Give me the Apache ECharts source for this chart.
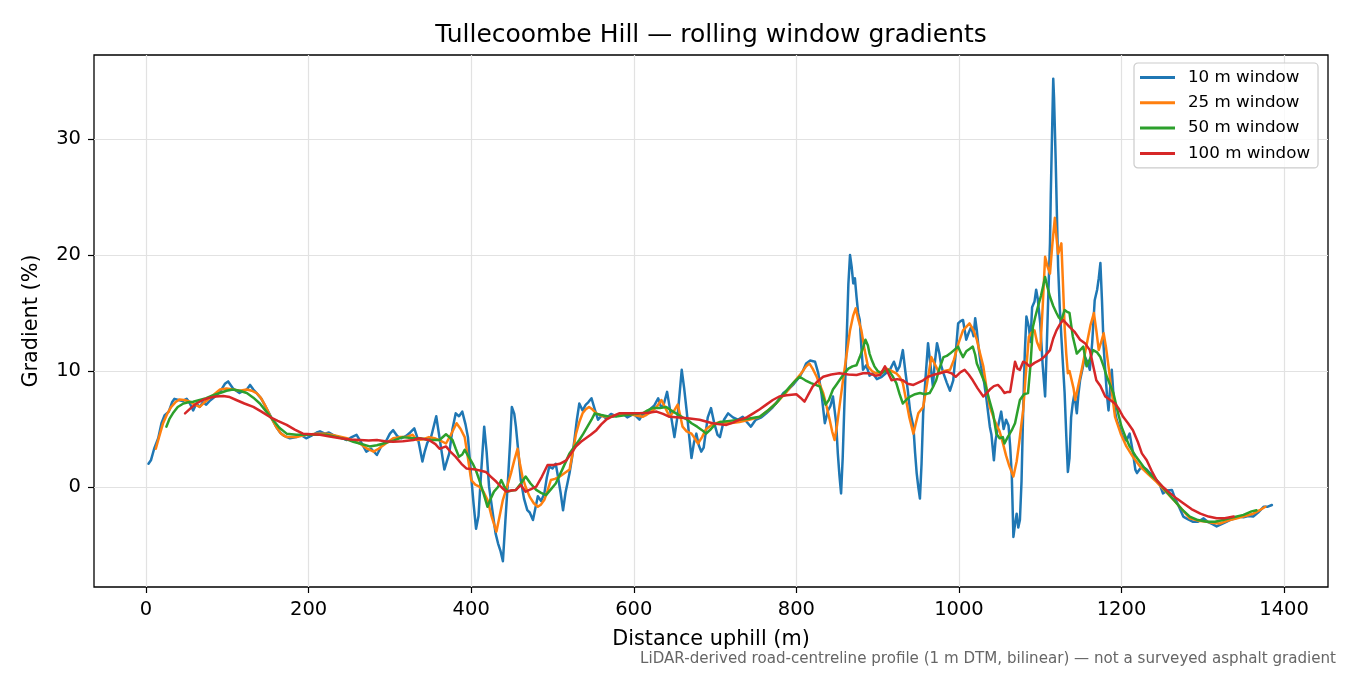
<!DOCTYPE html>
<html>
<head>
<meta charset="utf-8">
<title>Tullecoombe Hill gradients</title>
<script src="https://cdn.jsdelivr.net/npm/echarts@6/dist/echarts.min.js"></script>
<style>
  html, body { margin: 0; padding: 0; background: #fff; }
  #chart { width: 1350px; height: 675px; }
</style>
</head>
<body>
<div id="chart"></div>
<script>
// distances (m) and gradients (%), one pair of arrays per window
const d10 = [3, 6, 10, 15, 19, 23, 28, 32, 35, 40, 45, 50, 54, 58, 62, 66, 70, 74, 78, 83, 88, 92, 97, 101, 104, 107, 111, 115, 120, 124, 128, 132, 136, 142, 148, 154, 160, 165, 170, 177, 185, 190, 197, 203, 210, 214, 220, 225, 230, 236, 242, 247, 253, 259, 265, 271, 277, 284, 290, 296, 300, 304, 309, 314, 320, 325, 330, 335, 340, 343, 346, 351, 357, 362, 367, 373, 377, 381, 385, 389, 393, 396, 400, 403, 406, 409, 412, 416, 419, 422, 427, 430, 433, 436, 439, 442, 445, 448, 450, 453, 455, 458, 461, 465, 469, 472, 476, 479, 482, 486, 490, 493, 496, 500, 504, 507, 510, 513, 516, 521, 524, 527, 530, 533, 537, 541, 544, 548, 552, 556, 561, 566, 572, 578, 586, 592, 600, 607, 611, 615, 620, 625, 630, 633, 636, 641, 645, 650, 654, 659, 662, 665, 668, 671, 674, 677, 680, 683, 686, 691, 695, 699, 703, 706, 711, 716, 722, 728, 734, 739, 744, 750, 757, 763, 770, 777, 784, 790, 797, 804, 808, 812, 817, 823, 827, 831, 835, 839, 842, 845, 849, 851, 853, 855, 857, 859, 862, 864, 866, 868, 870, 872, 874, 876, 878, 880, 882, 886, 890, 894, 899, 905, 910, 915, 920, 924, 927, 931, 934, 937, 940, 944, 946, 948, 950, 952, 954, 956, 959, 962, 965, 968, 970, 973, 976, 978, 981, 985, 989, 993, 996, 999, 1002, 1005, 1009, 1012, 1015, 1018, 1020, 1022, 1024, 1027, 1031, 1034, 1038, 1040, 1043, 1045, 1048, 1052, 1055, 1058, 1061, 1063, 1065, 1067, 1069, 1071, 1073, 1075, 1077, 1079, 1081, 1083, 1086, 1088, 1090, 1093, 1095, 1097, 1100, 1103, 1106, 1108, 1110, 1112, 1113, 1115, 1116, 1117, 1119, 1121, 1122, 1124, 1126, 1128, 1130, 1132, 1134, 1136, 1138, 1140, 1142, 1145, 1147, 1149, 1152, 1155, 1158, 1161, 1164, 1167, 1170, 1172, 1174, 1176, 1178, 1180, 1182, 1184, 1186, 1188, 1190, 1192, 1194, 1198, 1202, 1206, 1210, 1214, 1217, 1219, 1223, 1227, 1231, 1235, 1239, 1243, 1247, 1251, 1256, 1262, 1266, 1270, 1276, 1282, 1288, 1294, 1301, 1306, 1312, 1317, 1323, 1329, 1335, 1340, 1344, 1350, 1356, 1362, 1368, 1372, 1375, 1380, 1385];
const g10 = [2.0, 2.3, 3.3, 4.2, 5.5, 6.2, 6.5, 7.3, 7.6, 7.5, 7.4, 7.6, 7.2, 6.6, 7.2, 6.9, 7.3, 7.1, 7.4, 7.7, 8.0, 8.3, 8.9, 9.1, 8.8, 8.5, 8.3, 8.1, 8.3, 8.4, 8.8, 8.4, 8.1, 7.6, 6.8, 6.0, 5.2, 4.7, 4.4, 4.2, 4.3, 4.5, 4.2, 4.4, 4.7, 4.8, 4.6, 4.7, 4.5, 4.3, 4.2, 4.05, 4.3, 4.5, 3.8, 3.05, 3.3, 2.76, 3.6, 4.05, 4.6, 4.9, 4.4, 4.2, 4.4, 4.7, 5.05, 4.0, 2.2, 3.1, 3.8, 4.4, 6.1, 3.8, 1.5, 2.9, 5.0, 6.35, 6.1, 6.5, 5.4, 4.3, 0.9, -1.5, -3.6, -2.5, 1.0, 5.2, 3.0, 0.03, -2.5, -4.0, -4.85, -5.5, -6.4, -3.0, 0.3, 4.0, 6.9, 6.3, 5.2, 3.0, 0.6, -1.0, -2.0, -2.2, -2.85, -1.8, -0.8, -1.2, -0.55, 0.8, 1.75, 1.6, 2.0, 0.8, -0.5, -2.0, -0.5, 1.2, 2.5, 4.05, 5.8, 7.2, 6.6, 7.1, 7.3, 7.65, 6.7, 5.8, 6.2, 5.9, 6.3, 6.1, 6.35, 6.0, 6.3, 5.8, 6.3, 6.2, 6.7, 7.0, 7.65, 7.0, 6.9, 8.2, 6.5, 4.3, 6.2, 10.1, 8.5, 6.6, 4.5, 2.5, 3.8, 4.6, 3.6, 3.05, 3.4, 6.0, 6.8, 5.5, 4.5, 4.3, 5.8, 6.35, 6.0, 5.8, 6.05, 5.6, 5.2, 5.8, 6.0, 6.35, 6.8, 7.4, 8.1, 8.4, 8.9, 9.5, 10.0, 10.65, 10.9, 10.8, 9.8, 8.0, 5.5, 6.6, 7.0, 7.8, 5.5, 2.9, 1.0, -0.55, 2.5, 6.9, 13.0, 17.5, 20.0, 19.0, 17.55, 18.0, 16.4, 15.0, 14.4, 12.0, 10.1, 10.5, 9.6, 9.8, 9.3, 9.5, 9.8, 10.1, 10.8, 10.0, 10.4, 11.8, 10.0, 8.4, 6.5, 5.2, 3.0, 1.2, 0.0, -1.0, 2.0, 6.35, 9.5, 12.4, 10.5, 8.65, 10.5, 12.4, 11.5, 10.5, 9.8, 9.0, 8.3, 9.2, 11.5, 14.1, 14.3, 14.4, 12.7, 13.3, 13.8, 13.0, 14.55, 13.5, 12.1, 10.5, 9.0, 7.5, 5.2, 4.5, 2.3, 4.0, 5.2, 6.5, 5.0, 5.8, 5.3, 3.5, 1.0, -4.3, -3.2, -2.3, -3.5, -2.85, 0.5, 6.5, 11.5, 14.7, 13.8, 12.5, 15.5, 16.0, 17.0, 16.2, 14.1, 10.5, 7.8, 12.0, 16.7, 21.0, 25.3, 32.0, 35.2, 33.5, 28.2, 22.0, 19.0, 15.5, 12.95, 10.5, 8.1, 4.5, 1.3, 2.5, 6.0, 7.2, 8.0, 6.35, 8.0, 9.2, 10.2, 11.2, 10.8, 10.1, 12.5, 16.1, 17.0, 18.0, 19.3, 16.0, 12.1, 10.0, 8.0, 6.6, 8.5, 10.1, 8.0, 6.5, 5.8, 5.0, 4.3, 4.0, 4.6, 3.0, 1.5, 1.2, 1.6, 1.7, 1.5, 1.2, 1.0, 0.6, 0.2, -0.55, -0.3, -0.25, -1.0, -1.6, -2.55, -2.8, -3.0, -3.0, -2.7, -3.0, -3.2, -3.4, -3.2, -3.0, -2.8, -2.7, -2.55, -2.6, -2.5, -2.55, -2.2, -1.9, -1.7, -1.7, -1.55];

const d25 = [12, 16, 21, 26, 31, 36, 41, 47, 54, 60, 66, 72, 78, 84, 91, 99, 107, 115, 124, 130, 136, 141, 146, 153, 160, 166, 173, 185, 197, 210, 222, 235, 247, 255, 263, 272, 280, 286, 292, 298, 304, 312, 320, 328, 333, 340, 348, 355, 362, 369, 375, 382, 387, 392, 396, 400, 405, 410, 415, 420, 425, 431, 435, 439, 444, 449, 453, 457, 460, 463, 467, 472, 477, 482, 486, 490, 494, 498, 503, 509, 515, 521, 525, 529, 533, 537, 541, 545, 549, 554, 562, 570, 580, 591, 600, 611, 620, 628, 634, 639, 644, 649, 654, 657, 660, 665, 671, 675, 679, 684, 689, 697, 706, 718, 730, 742, 755, 767, 779, 788, 796, 806, 812, 816, 820, 825, 829, 833, 837, 841, 844, 847, 850, 853, 857, 862, 866, 870, 873, 876, 880, 884, 888, 893, 898, 904, 911, 917, 923, 927, 931, 935, 939, 944, 947, 950, 956, 961, 966, 971, 976, 982, 989, 994, 999, 1005, 1009, 1013, 1018, 1022, 1026, 1030, 1034, 1038, 1044, 1050, 1054, 1058, 1062, 1067, 1071, 1074, 1077, 1079, 1082, 1086, 1089, 1093, 1096, 1100, 1103, 1106, 1109, 1112, 1115, 1118, 1120, 1122, 1124, 1126, 1128, 1130, 1132, 1134, 1136, 1138, 1141, 1143, 1147, 1151, 1155, 1159, 1162, 1166, 1169, 1172, 1175, 1178, 1181, 1184, 1188, 1192, 1199, 1206, 1214, 1223, 1233, 1243, 1253, 1264, 1274, 1284, 1294, 1305, 1313, 1321, 1331, 1342, 1352, 1362, 1370, 1377];
const g25 = [3.3, 4.3, 5.5, 6.3, 6.9, 7.3, 7.55, 7.5, 7.35, 7.1, 6.9, 7.3, 7.65, 8.0, 8.4, 8.5, 8.4, 8.3, 8.4, 8.3, 8.1, 7.7, 7.1, 6.1, 5.2, 4.6, 4.3, 4.3, 4.5, 4.6, 4.6, 4.4, 4.2, 4.0, 3.75, 3.3, 3.05, 3.3, 3.6, 3.9, 4.2, 4.3, 4.3, 4.5, 4.05, 4.1, 4.3, 4.2, 4.0, 3.75, 4.5, 5.5, 5.0, 4.3, 2.5, 0.6, 0.2, 0.03, -0.4, -1.1, -2.5, -3.85, -2.5, -1.1, 0.0, 1.2, 2.3, 3.3, 2.0, 0.9, 0.0, -0.85, -1.4, -1.7, -1.5, -1.1, -0.3, 0.6, 0.7, 0.9, 1.2, 1.5, 3.0, 4.6, 5.6, 6.35, 6.7, 6.9, 6.7, 6.35, 6.1, 6.05, 6.2, 6.35, 6.2, 6.05, 6.4, 6.9, 7.5, 6.8, 6.05, 6.5, 7.1, 6.2, 5.2, 4.8, 4.6, 4.2, 3.75, 4.3, 5.0, 5.4, 5.6, 5.5, 5.6, 5.8, 6.05, 6.7, 7.5, 8.2, 8.95, 9.8, 10.4, 10.65, 10.2, 9.5, 8.8, 8.1, 7.0, 5.8, 4.8, 4.05, 5.3, 6.9, 9.0, 11.5, 13.5, 14.8, 15.4, 14.5, 13.5, 11.8, 10.4, 10.0, 9.8, 9.9, 10.2, 10.0, 9.8, 9.5, 8.95, 7.5, 6.0, 4.6, 5.5, 6.35, 6.9, 9.0, 11.2, 10.5, 9.8, 10.0, 10.1, 11.0, 12.3, 13.5, 13.8, 14.1, 13.5, 12.7, 11.5, 10.4, 8.5, 6.9, 5.7, 4.8, 3.8, 2.7, 1.8, 0.9, 2.2, 3.75, 5.5, 6.6, 9.5, 12.95, 13.3, 13.5, 12.5, 11.8, 15.5, 19.85, 19.0, 18.4, 21.0, 23.2, 21.5, 20.1, 20.5, 21.0, 17.5, 13.8, 11.5, 9.8, 10.0, 10.1, 8.5, 7.5, 8.8, 10.1, 11.5, 12.95, 14.0, 15.0, 13.5, 11.8, 12.5, 13.25, 12.0, 10.4, 8.2, 6.05, 4.6, 3.5, 2.6, 1.75, 1.1, 0.45, -0.3, -1.1, -1.9, -2.7, -2.9, -3.0, -3.1, -3.15, -2.9, -2.7, -2.5, -2.3, -2.0, -1.7];

const d50 = [25, 29, 33, 39, 46, 52, 58, 66, 74, 82, 91, 99, 107, 115, 124, 132, 140, 148, 156, 164, 173, 185, 197, 210, 222, 235, 247, 255, 263, 275, 284, 292, 304, 316, 328, 337, 348, 361, 369, 373, 377, 381, 385, 389, 392, 397, 402, 406, 410, 415, 420, 424, 428, 433, 437, 441, 445, 450, 455, 461, 467, 473, 480, 486, 492, 498, 504, 512, 521, 527, 533, 538, 543, 548, 552, 560, 570, 580, 591, 601, 611, 617, 623, 632, 640, 646, 652, 660, 666, 671, 678, 684, 689, 695, 700, 706, 718, 730, 742, 755, 765, 775, 783, 792, 798, 804, 811, 818, 824, 829, 833, 836, 840, 845, 849, 853, 858, 864, 869, 874, 878, 882, 885, 888, 890, 893, 896, 900, 905, 909, 913, 918, 923, 927, 931, 935, 940, 946, 952, 958, 964, 968, 972, 976, 981, 985, 989, 994, 999, 1002, 1005, 1009, 1013, 1017, 1020, 1022, 1027, 1032, 1037, 1042, 1046, 1050, 1054, 1056, 1060, 1065, 1069, 1072, 1075, 1080, 1085, 1088, 1091, 1094, 1097, 1101, 1106, 1109, 1112, 1116, 1120, 1123, 1126, 1130, 1133, 1136, 1140, 1145, 1149, 1153, 1157, 1161, 1165, 1170, 1174, 1178, 1182, 1186, 1190, 1195, 1200, 1205, 1210, 1218, 1227, 1235, 1243, 1253, 1264, 1274, 1284, 1294, 1305, 1315, 1325, 1338, 1350, 1360, 1366];
const g50 = [5.2, 5.9, 6.35, 6.9, 7.2, 7.3, 7.35, 7.5, 7.65, 7.9, 8.1, 8.3, 8.4, 8.3, 8.1, 7.7, 7.2, 6.5, 5.8, 5.1, 4.6, 4.5, 4.5, 4.5, 4.5, 4.3, 4.1, 3.9, 3.75, 3.5, 3.6, 3.75, 4.0, 4.3, 4.2, 4.2, 4.05, 4.05, 4.55, 4.3, 4.05, 3.3, 2.6, 2.8, 3.2, 2.6, 2.0, 1.4, 0.6, -0.5, -1.7, -1.0, -0.4, 0.0, 0.6, 0.0, -0.4, -0.3, -0.25, 0.3, 0.9, 0.3, -0.25, -0.5, -0.7, -0.2, 0.3, 1.5, 2.9, 3.5, 4.05, 4.6, 5.2, 5.8, 6.35, 6.2, 6.05, 6.1, 6.2, 6.3, 6.35, 6.6, 6.8, 6.8, 6.9, 6.6, 6.35, 6.0, 5.8, 5.5, 5.2, 4.9, 4.6, 5.0, 5.4, 5.6, 5.7, 5.8, 5.9, 6.05, 6.6, 7.2, 7.9, 8.65, 9.1, 9.5, 9.2, 8.95, 8.8, 8.65, 7.8, 7.1, 7.5, 8.4, 8.8, 9.2, 9.7, 10.2, 10.4, 10.5, 11.2, 12.0, 12.7, 12.2, 11.5, 10.9, 10.4, 10.0, 9.8, 10.0, 10.1, 9.6, 8.95, 8.0, 7.2, 7.5, 7.8, 8.0, 8.1, 8.0, 8.1, 8.6, 9.2, 10.2, 11.2, 11.3, 11.5, 11.8, 12.1, 11.6, 11.2, 11.7, 11.9, 12.1, 11.4, 10.65, 9.8, 8.95, 7.6, 6.35, 4.6, 4.2, 4.3, 3.75, 4.3, 4.9, 5.5, 6.5, 7.5, 8.0, 8.1, 10.5, 13.8, 14.7, 15.5, 16.5, 18.1, 17.2, 16.4, 15.6, 15.0, 14.6, 14.4, 15.25, 15.1, 15.0, 13.0, 11.5, 11.8, 12.1, 10.4, 11.0, 11.8, 11.6, 11.2, 10.4, 9.5, 8.8, 8.1, 6.6, 5.2, 4.3, 3.5, 2.6, 1.75, 1.1, 0.6, -0.2, -1.1, -1.9, -2.55, -2.85, -3.0, -3.0, -2.85, -2.6, -2.4, -2.1, -2.0];

const d100 = [48, 55, 62, 70, 78, 86, 95, 103, 111, 121, 132, 142, 152, 162, 173, 183, 193, 203, 214, 226, 239, 251, 263, 274, 284, 294, 304, 316, 329, 336, 348, 356, 361, 365, 369, 375, 381, 388, 394, 400, 406, 412, 418, 424, 431, 437, 443, 449, 455, 461, 467, 473, 480, 487, 494, 501, 509, 517, 523, 529, 535, 541, 547, 554, 560, 566, 574, 582, 594, 607, 618, 628, 636, 644, 656, 669, 681, 691, 697, 706, 714, 722, 730, 739, 747, 755, 763, 771, 779, 788, 800, 805, 810, 815, 820, 826, 833, 843, 853, 864, 874, 882, 890, 897, 903, 909, 913, 917, 924, 931, 937, 944, 950, 956, 962, 968, 976, 985, 991, 996, 1002, 1007, 1012, 1017, 1023, 1030, 1034, 1038, 1043, 1048, 1052, 1056, 1060, 1063, 1066, 1069, 1072, 1075, 1079, 1083, 1087, 1093, 1100, 1106, 1112, 1116, 1120, 1124, 1128, 1132, 1136, 1142, 1149, 1155, 1161, 1165, 1169, 1174, 1180, 1186, 1192, 1197, 1202, 1208, 1214, 1220, 1225, 1231, 1237, 1243, 1251, 1260, 1268, 1276, 1286, 1297, 1307, 1317, 1327, 1338];
const g100 = [6.35, 6.8, 7.2, 7.5, 7.7, 7.8, 7.85, 7.75, 7.5, 7.2, 6.9, 6.5, 6.05, 5.7, 5.35, 4.95, 4.6, 4.55, 4.5, 4.35, 4.2, 4.1, 4.05, 4.0, 4.05, 3.95, 3.9, 3.95, 4.05, 4.2, 4.05, 3.7, 3.3, 3.4, 3.5, 3.0, 2.6, 2.0, 1.6, 1.55, 1.5, 1.4, 1.3, 0.9, 0.45, 0.0, -0.4, -0.3, -0.25, 0.17, -0.4, -0.2, 0.03, 0.9, 1.9, 1.9, 2.0, 2.3, 2.9, 3.5, 3.9, 4.2, 4.5, 4.9, 5.4, 5.8, 6.1, 6.35, 6.35, 6.35, 6.4, 6.5, 6.3, 6.05, 6.0, 5.9, 5.8, 5.6, 5.5, 5.4, 5.35, 5.55, 5.8, 6.0, 6.35, 6.7, 7.1, 7.5, 7.8, 7.9, 8.0, 7.7, 7.35, 8.0, 8.65, 9.1, 9.5, 9.7, 9.8, 9.7, 9.65, 9.8, 9.8, 9.6, 9.65, 10.4, 9.8, 9.2, 9.3, 9.2, 8.9, 8.8, 9.0, 9.2, 9.5, 9.65, 9.8, 9.95, 9.8, 9.5, 9.9, 10.1, 9.7, 9.2, 8.5, 7.8, 8.1, 8.4, 8.7, 8.8, 8.5, 8.1, 8.2, 8.2, 9.5, 10.8, 10.2, 10.1, 10.8, 10.65, 10.4, 10.7, 10.95, 11.3, 11.8, 12.8, 13.5, 14.0, 14.4, 14.1, 13.8, 13.4, 12.7, 12.4, 11.8, 10.5, 9.2, 8.7, 7.8, 7.5, 7.2, 6.7, 6.05, 5.5, 4.9, 3.9, 2.9, 2.3, 1.4, 0.6, 0.0, -0.55, -1.0, -1.4, -1.9, -2.3, -2.55, -2.7, -2.7, -2.55];

const seriesNames = ['10 m window', '25 m window', '50 m window', '100 m window'];
const seriesColors = ['#1f77b4', '#ff7f0e', '#2ca02c', '#d62728'];
const xTicks = [0, 200, 400, 600, 800, 1000, 1200, 1400];
const yTicks = [0, 10, 20, 30];

const FONT = 'DejaVu Sans';

function pairs(xs, ys) {
  return xs.map((x, i) => [x, ys[i]]);
}

const runs = [pairs(d10, g10), pairs(d25, g25), pairs(d50, g50), pairs(d100, g100)];

const chart = echarts.init(document.getElementById('chart'), null, { renderer: 'canvas' });

chart.setOption({
  backgroundColor: '#ffffff',
  animation: false,
  textStyle: { fontFamily: FONT },
  title: {
    text: 'Tullecoombe Hill \u2014 rolling window gradients',
    left: 711,
    top: 23,
    textAlign: 'center',
    padding: 0,
    textStyle: { fontFamily: FONT, fontSize: 25, fontWeight: 'normal', color: '#000' }
  },
  legend: {
    orient: 'vertical',
    left: 1134,
    top: 63,
    padding: [6, 8, 6, 6],
    itemGap: 8.3,
    itemWidth: 35,
    itemHeight: 3,
    icon: 'rect',
    backgroundColor: 'rgba(255,255,255,0.8)',
    borderColor: '#cccccc',
    borderWidth: 1.2,
    borderRadius: 4,
    textStyle: { fontFamily: FONT, fontSize: 16.7, lineHeight: 17, color: '#000', padding: [0, 0, 0, 8] },
    data: seriesNames
  },
  grid: {
    left: 94, right: 22, top: 55, bottom: 88,
    show: true, borderColor: '#000', borderWidth: 1.3,
    containLabel: false
  },
  xAxis: {
    type: 'value',
    min: -64,
    max: 1454,
    name: 'Distance uphill (m)',
    nameLocation: 'middle',
    nameGap: 42,
    nameTextStyle: { fontFamily: FONT, fontSize: 20.8, color: '#000' },
    axisLine: { show: false, onZero: false },
    axisTick: { show: true, length: 6, customValues: xTicks, lineStyle: { color: '#000', width: 1.2 } },
    axisLabel: { customValues: xTicks, formatter: v => String(v), fontFamily: FONT, fontSize: 19.5, color: '#000', margin: 13 },
    splitLine: { show: true, lineStyle: { color: '#e2e2e2', width: 1.2 } }
  },
  yAxis: {
    type: 'value',
    min: -8.62,
    max: 37.24,
    name: 'Gradient (%)',
    nameLocation: 'middle',
    nameGap: 52,
    nameTextStyle: { fontFamily: FONT, fontSize: 20.8, color: '#000' },
    axisLine: { show: false, onZero: false },
    axisTick: { show: true, length: 6, customValues: yTicks, lineStyle: { color: '#000', width: 1.2 } },
    axisLabel: { customValues: yTicks, formatter: v => String(v), fontFamily: FONT, fontSize: 19.5, color: '#000', margin: 13 },
    splitLine: { show: true, lineStyle: { color: '#e2e2e2', width: 1.2 } }
  },
  graphic: [{
    type: 'text',
    right: 14,
    top: 652,
    style: {
      text: 'LiDAR-derived road-centreline profile (1 m DTM, bilinear) \u2014 not a surveyed asphalt gradient',
      fontFamily: FONT,
      fontSize: 15.1,
      fill: '#666666'
    }
  }],
  series: runs.map((data, i) => ({
    name: seriesNames[i],
    type: 'line',
    data: data,
    symbol: 'none',
    showSymbol: false,
    smooth: false,
    color: seriesColors[i],
    lineStyle: { color: seriesColors[i], width: 2.5, join: 'round', cap: 'round' },
    z: 2 + i
  }))
});
</script>
</body>
</html>
